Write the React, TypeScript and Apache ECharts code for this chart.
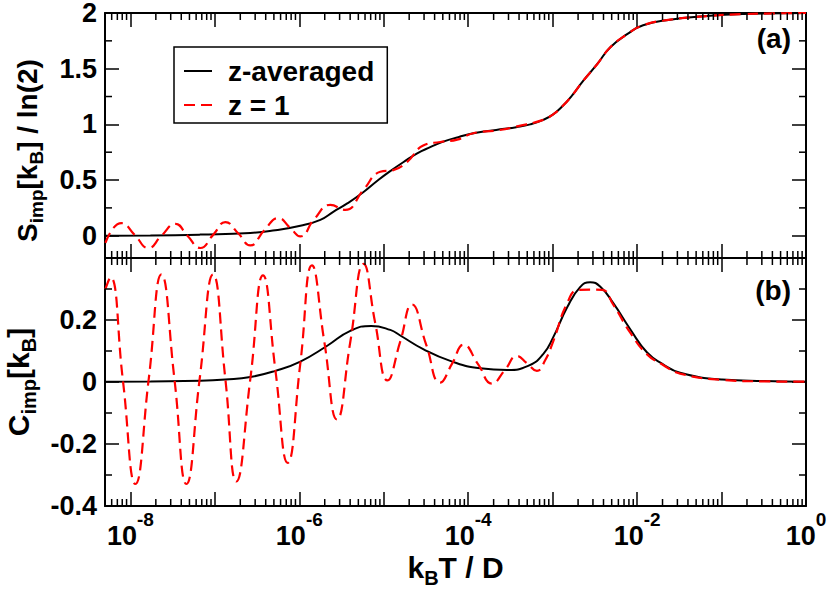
import React, { useEffect, useRef } from 'react';
import * as echarts from 'echarts';

// ---- data (x given as log10(kB T / D)) ----
const S_AVG_LOGT = [-8.296, -7.763, -7.172, -6.58, -6.284, -5.988, -5.751, -5.598, -5.432, -5.243, -5.065, -4.923, -4.769, -4.604, -4.45, -4.296, -4.118, -3.905, -3.669, -3.432, -3.266, -3.112, -2.994, -2.888, -2.769, -2.639, -2.473, -2.32, -2.118, -1.929, -1.609, -1.219, -0.746, 0];
const S_AVG = [0.0, 0.002, 0.01, 0.025, 0.05, 0.09, 0.143, 0.215, 0.29, 0.39, 0.5, 0.58, 0.66, 0.74, 0.795, 0.845, 0.885, 0.925, 0.95, 0.975, 1.0, 1.04, 1.09, 1.16, 1.26, 1.39, 1.54, 1.69, 1.81, 1.89, 1.94, 1.97, 1.99, 2.0];

const S_Z1_LOGT = [-8.296, -8.201, -8.107, -7.953, -7.787, -7.633, -7.467, -7.325, -7.172, -7.018, -6.876, -6.722, -6.58, -6.414, -6.249, -6.107, -5.988, -5.822, -5.633, -5.456, -5.243, -5.041, -4.888, -4.722, -4.533, -4.331, -4.13, -3.941, -3.657, -3.42, -3.112, -2.994, -2.888, -2.769, -2.639, -2.473, -2.32, -2.118, -1.929, -1.609, -1.219, -0.746, 0];
const S_Z1 = [-0.065, 0.07, 0.113, 0.01, -0.11, 0.0, 0.107, 0.0, -0.11, 0.01, 0.122, 0.02, -0.086, 0.05, 0.158, 0.07, -0.006, 0.15, 0.277, 0.232, 0.41, 0.574, 0.589, 0.664, 0.81, 0.842, 0.863, 0.92, 0.946, 0.982, 1.04, 1.09, 1.16, 1.26, 1.39, 1.54, 1.69, 1.81, 1.89, 1.94, 1.97, 1.99, 2.0];

const C_AVG_LOGT = [-8.296, -7.763, -7.172, -6.876, -6.58, -6.284, -5.988, -5.669, -5.396, -5.148, -4.923, -4.805, -4.533, -4.213, -3.858, -3.538, -3.29, -3.112, -2.994, -2.828, -2.675, -2.556, -2.438, -2.284, -2.083, -1.882, -1.692, -1.491, -0.994, -0.497, 0];
const C_AVG = [0.001, 0.002, 0.004, 0.008, 0.016, 0.036, 0.066, 0.117, 0.165, 0.181, 0.168, 0.15, 0.106, 0.068, 0.044, 0.039, 0.052, 0.09, 0.144, 0.241, 0.306, 0.322, 0.308, 0.255, 0.171, 0.095, 0.057, 0.03, 0.008, 0.003, 0.001];

const C_Z1_LOGT = [-8.296, -8.237, -8.089, -7.941, -7.783, -7.633, -7.479, -7.337, -7.18, -7.021, -6.876, -6.746, -6.58, -6.43, -6.284, -6.138, -5.988, -5.85, -5.704, -5.554, -5.396, -5.239, -5.101, -4.955, -4.805, -4.666, -4.497, -4.331, -4.189, -4.056, -3.882, -3.72, -3.562, -3.424, -3.302, -3.187, -3.089, -2.991, -2.832, -2.698, -2.556, -2.414, -2.284, -2.083, -1.885, -1.692, -1.491, -0.994, -0.497, 0];
const C_Z1 = [0.3, 0.338, 0.005, -0.329, 0.01, 0.347, 0.01, -0.329, 0.01, 0.347, 0.01, -0.321, 0.01, 0.344, 0.04, -0.261, 0.06, 0.376, 0.13, -0.121, 0.13, 0.381, 0.19, 0.005, 0.13, 0.25, 0.12, -0.002, 0.06, 0.12, 0.057, -0.005, 0.04, 0.084, 0.06, 0.036, 0.07, 0.133, 0.252, 0.297, 0.298, 0.297, 0.25, 0.16, 0.09, 0.055, 0.027, 0.007, 0.002, 0.001];

const SERIES_NAMES = ['z-averaged', 'z = 1'];
const X_RANGE = [5e-9, 1];
const S_RANGE = [-0.2, 2];
const C_RANGE = [-0.4, 0.4];
const S_MINOR_Y = [0.25, 0.75, 1.25, 1.75];
const C_MINOR_Y = [-0.3, -0.1, 0.1, 0.3];
const MINOR_MULT = [2, 3, 4, 5, 6, 7, 8, 9];
const DECADES = [-9, -8, -7, -6, -5, -4, -3, -2, -1];
const PANEL_LABELS = ['(a)', '(b)'];

const FONT = 'Liberation Sans';
const RED = '#ff0000';
const DASH = [11, 6];

function pairs(logT: number[], vals: number[]) {
  return logT.map((e, i) => [Math.pow(10, e), vals[i]]);
}

function minorTickData(yMin: number, yMinor: number[]) {
  const out: number[][] = [];
  DECADES.forEach((d) => {
    MINOR_MULT.forEach((m) => {
      const v = m * Math.pow(10, d);
      if (v > X_RANGE[0] && v < X_RANGE[1]) out.push([v, yMin, 0]);
    });
  });
  yMinor.forEach((v) => out.push([X_RANGE[0], v, 1]));
  return out;
}

const MINOR_LEN = 7;
const renderMinor = (params: any, api: any) => {
  const cs = params.coordSys;
  const kind = api.value(2);
  const p = api.coord([api.value(0), api.value(1)]);
  const st = { stroke: '#000', lineWidth: 1.5 };
  if (kind === 0) {
    const x = p[0];
    return {
      type: 'group',
      children: [
        { type: 'line', shape: { x1: x, y1: cs.y, x2: x, y2: cs.y + MINOR_LEN }, style: st },
        { type: 'line', shape: { x1: x, y1: cs.y + cs.height, x2: x, y2: cs.y + cs.height - MINOR_LEN }, style: st },
      ],
    };
  }
  const y = p[1];
  return {
    type: 'group',
    children: [
      { type: 'line', shape: { x1: cs.x, y1: y, x2: cs.x + MINOR_LEN, y2: y }, style: st },
      { type: 'line', shape: { x1: cs.x + cs.width, y1: y, x2: cs.x + cs.width - MINOR_LEN, y2: y }, style: st },
    ],
  };
};

export default function App() {
  const ref = useRef<HTMLDivElement>(null);
  useEffect(() => {
    document.body.style.margin = '0';
    if (!ref.current) return;
    const chart = echarts.init(ref.current, undefined, { renderer: 'svg' });

    const axisLine = { onZero: false, lineStyle: { color: '#000', width: 2 } };
    const majorTick = { inside: true, length: 14, lineStyle: { color: '#000', width: 1.5 } };
    // main text on top of the line box, subscripts dropped below it
    const makeRich = (main: number, mainLH: number, sub: number, drop: number) => ({
      m: { fontSize: main, fontWeight: 'bold', lineHeight: mainLH, fontFamily: FONT, color: '#000', verticalAlign: 'top' },
      s: { fontSize: sub, fontWeight: 'bold', lineHeight: sub, fontFamily: FONT, color: '#000', verticalAlign: 'top', padding: [drop, 0, 0, 0] },
      g: { fontSize: sub, lineHeight: sub, width: 30, verticalAlign: 'top' },
    });
    const nameRich = makeRich(30, 24, 20, 15.5);
    const sNameRich = makeRich(28, 22, 19, 14);
    const tickLabel = { fontSize: 27, lineHeight: 24, fontWeight: 'bold', fontFamily: FONT, color: '#000', margin: 8 };

    const xBase = (grid: number, position: string) => ({
      type: 'log',
      logBase: 10,
      gridIndex: grid,
      position,
      min: X_RANGE[0],
      max: X_RANGE[1],
      splitNumber: 5,
      axisLine,
      axisTick: majorTick,
      axisLabel: { show: false },
      splitLine: { show: false },
      minorTick: { show: false },
    });

    const yBase = (grid: number, position: string, range: number[], interval?: number) => ({
      type: 'value',
      gridIndex: grid,
      position,
      min: range[0],
      max: range[1],
      interval,
      axisLine,
      axisTick: majorTick,
      axisLabel: { show: false },
      splitLine: { show: false },
    });

    const option: any = {
      animation: false,
      textStyle: { fontFamily: FONT },
      grid: [
        { left: 105, top: 13, width: 701, height: 245, outerBoundsMode: 'none', containLabel: false },
        { left: 105, top: 258, width: 701, height: 248, outerBoundsMode: 'none', containLabel: false },
      ],
      xAxis: [
        xBase(0, 'bottom'),
        xBase(0, 'top'),
        {
          ...xBase(1, 'bottom'),
          name: '{m|k}{s|B}{m|T / D}',
          nameLocation: 'middle',
          nameGap: 46,
          nameMoveOverlap: false,
          nameTextStyle: { rich: nameRich },
          axisLabel: {
            show: true,
            margin: 4,
            formatter: (v: number) => {
              const e = Math.log10(v);
              const r = Math.round(e);
              if (Math.abs(e - r) > 1e-6 || r % 2 !== 0) return '';
              return '{b|10}{s|' + r + '}';
            },
            rich: {
              b: { fontSize: 27, fontWeight: 'bold', lineHeight: 23, fontFamily: FONT, color: '#000', verticalAlign: 'top', padding: [12.5, 0, 0, 0] },
              s: { fontSize: 19, fontWeight: 'bold', lineHeight: 19, fontFamily: FONT, color: '#000', verticalAlign: 'top' },
            },
          },
        },
        xBase(1, 'top'),
      ],
      yAxis: [
        {
          ...yBase(0, 'left', S_RANGE),
          name: '{m|S}{s|imp}{m|[k}{s|B}{m|] / ln(2)}{g| }',
          nameLocation: 'middle',
          nameGap: 70,
          nameMoveOverlap: false,
          nameTextStyle: { rich: sNameRich },
          axisLabel: { show: true, ...tickLabel, formatter: (v: number) => (v < -0.01 ? '' : String(v)) },
        },
        yBase(0, 'right', S_RANGE),
        {
          ...yBase(1, 'left', C_RANGE, 0.2),
          name: '{m|C}{s|imp}{m|[k}{s|B}{m|]}',
          nameLocation: 'middle',
          nameGap: 78,
          nameMoveOverlap: false,
          nameTextStyle: { rich: nameRich },
          axisLabel: { show: true, ...tickLabel, formatter: (v: number) => (v > 0.39 ? '' : String(v)) },
        },
        yBase(1, 'right', C_RANGE, 0.2),
      ],
      legend: {
        data: SERIES_NAMES,
        orient: 'vertical',
        left: 174,
        top: 47,
        padding: [10, 13, 4, 9],
        itemWidth: 28,
        itemHeight: 14,
        itemGap: 6,
        borderColor: '#000',
        borderWidth: 1.5,
        backgroundColor: '#fff',
        itemStyle: { opacity: 0 },
        textStyle: { fontSize: 28, fontWeight: 'bold', fontFamily: FONT, color: '#000', lineHeight: 26, padding: [0, 0, 0, 11] },
      },
      graphic: [
        { type: 'text', x: 791, y: 38, style: { text: PANEL_LABELS[0], fill: '#000', font: 'bold 28px "Liberation Sans"', align: 'right', verticalAlign: 'middle' } },
        { type: 'text', x: 791, y: 290, style: { text: PANEL_LABELS[1], fill: '#000', font: 'bold 28px "Liberation Sans"', align: 'right', verticalAlign: 'middle' } },
      ],
      series: [
        {
          name: SERIES_NAMES[0], type: 'line', xAxisIndex: 0, yAxisIndex: 0, data: pairs(S_AVG_LOGT, S_AVG),
          smooth: 0.5, symbol: 'none', lineStyle: { color: '#000', width: 2 }, itemStyle: { color: '#000' }, z: 3,
        },
        {
          name: SERIES_NAMES[1], type: 'line', xAxisIndex: 0, yAxisIndex: 0, data: pairs(S_Z1_LOGT, S_Z1),
          smooth: 0.5, symbol: 'none', lineStyle: { color: RED, width: 2.2, type: DASH }, itemStyle: { color: RED }, z: 4,
        },
        {
          name: SERIES_NAMES[0], type: 'line', xAxisIndex: 2, yAxisIndex: 2, data: pairs(C_AVG_LOGT, C_AVG),
          smooth: 0.5, symbol: 'none', lineStyle: { color: '#000', width: 2 }, itemStyle: { color: '#000' }, z: 3,
        },
        {
          name: SERIES_NAMES[1], type: 'line', xAxisIndex: 2, yAxisIndex: 2, data: pairs(C_Z1_LOGT, C_Z1),
          smooth: 0.5, symbol: 'none', lineStyle: { color: RED, width: 2.2, type: DASH }, itemStyle: { color: RED }, z: 4,
        },
        {
          name: 'minor-a', type: 'custom', xAxisIndex: 0, yAxisIndex: 0, silent: true,
          data: minorTickData(S_RANGE[0], S_MINOR_Y), renderItem: renderMinor, z: 5,
        },
        {
          name: 'minor-b', type: 'custom', xAxisIndex: 2, yAxisIndex: 2, silent: true,
          data: minorTickData(C_RANGE[0], C_MINOR_Y), renderItem: renderMinor, z: 5,
        },
      ],
    };
    chart.setOption(option);
    return () => chart.dispose();
  }, []);
  return <div ref={ref} style={{ width: 830, height: 589 }} />;
}
